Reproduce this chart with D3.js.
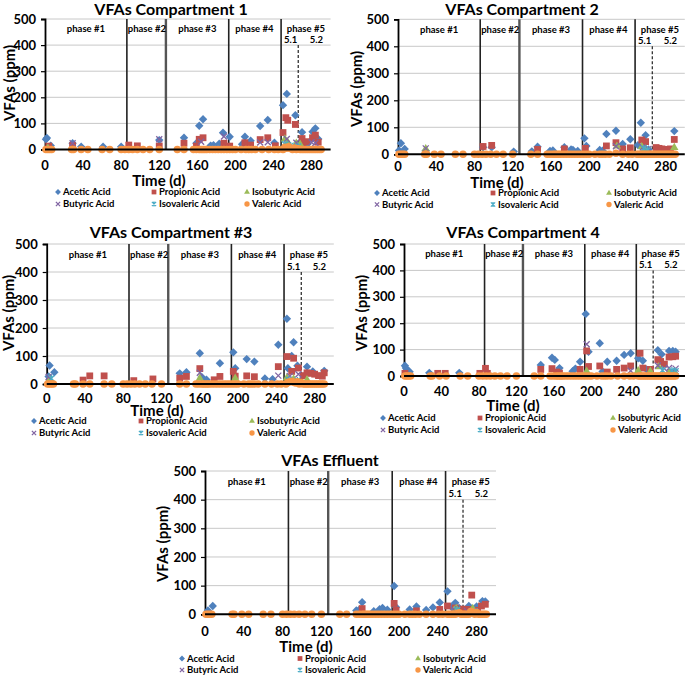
<!DOCTYPE html>
<html><head><meta charset="utf-8">
<script src="https://cdn.jsdelivr.net/npm/d3@7"></script>
<style>
html,body{margin:0;padding:0;background:#fff;}
svg{display:block;font-family:Lato,"Open Sans",sans-serif;font-weight:700;}
</style></head>
<body>
<svg id="chart" width="685" height="676"></svg>
<script>
// ---------------- DATA ----------------
const seriesNames = ["Acetic Acid","Propionic Acid","Isobutyric Acid","Butyric Acid","Isovaleric Acid","Valeric Acid"];
const seriesColors = ["#4F81BD","#C0504D","#9BBB59","#8064A2","#4BACC6","#F79646"];
const yTicks = [0,100,200,300,400,500];
const xTicks = [0,40,80,120,160,200,240,280];
const phaseDays = [86,127,193,248];
const subPhaseDay = 266;
const phaseLabels = ["phase #1","phase #2","phase #3","phase #4","phase #5"];
const phaseLabelDays = [43,107,160,220,274];
const subLabels = ["5.1","5.2"];
const subLabelDays = [258,285];
const panelTitles = ["VFAs Compartment 1","VFAs Compartment 2","VFAs Compartment #3","VFAs Compartment 4","VFAs Effluent"];

const sampleDays = [1,3,5,7,28,30,38,45,60,68,80,84,88,92,97,103,110,120,139,146,156,159,162,164,166,168,170,173,176,179,182,185,188,191,194,197,200,206,211,214,217,221,228,235,241,245,250,252,254,256,258,260,262,264,266,268,270,272,274,276,278,280,282,284,286,288,290];

// Compartment 1
const c1Acetic = [[1,39],[2,44],[6,15],[29,24],[38,11],[61,11],[80,11],[120,36],[146,45],[159,24],[162,91],[166,116],[174,15],[177,16],[183,22],[187,64],[194,49],[207,20],[210,49],[216,34],[226,90],[234,113],[241,26],[250,170],[254,213],[263,131],[270,66],[273,25],[276,22],[281,68],[284,81],[287,40]];
const c1Propionic = [[4,13],[29,15],[88,17],[97,14],[120,13],[146,24],[159,13],[162,39],[166,45],[188,24],[194,13],[210,26],[216,17],[226,38],[234,45],[242,14],[250,65],[253,122],[255,112],[263,96],[270,42],[271,25],[275,30],[281,45],[284,55],[287,28]];
const c1Isobutyric = [[3,5],[252,40],[255,28],[264,24],[268,20]];
const c1Butyric = [[29,24],[120,39],[164,30],[188,50],[226,27],[234,28],[254,40],[264,26],[280,28],[284,25]];
const c1Isovaleric = [[252,20],[258,15],[266,12]];
const c1Valeric = [0,0,0,0,0,0,0,0,0,0,0,0,0,0,0,0,0,0,0,0,0,0,0,0,0,0,0,0,0,0,0,0,0,0,0,0,0,0,0,0,0,0,0,0,0,0,0,8,5,10,4,0,6,0,3,0,0,0,0,0,0,0,0,0,0,0,0];

// Compartment 2
const c2Acetic = [[1,14],[3,41],[7,20],[29,13],[89,26],[98,26],[121,10],[140,11],[146,28],[159,12],[162,14],[174,26],[181,18],[183,16],[188,12],[195,59],[197,31],[211,16],[214,13],[218,75],[228,87],[235,38],[243,56],[251,34],[254,117],[259,71],[262,18],[289,86]];
const c2Propionic = [[89,29],[98,33],[146,18],[174,20],[196,22],[218,31],[228,43],[235,20],[243,24],[255,53],[259,47],[270,25],[273,22],[276,20],[279,18],[282,18],[285,20],[289,55]];
const c2Isobutyric = [[29,20],[229,30],[255,28],[259,20],[289,25]];
const c2Butyric = [[29,22],[228,30],[256,25],[262,20]];
const c2Isovaleric = [[257,22],[261,15]];
const c2Valeric = [0,0,0,0,0,0,0,0,0,0,0,0,0,0,0,0,0,0,0,0,0,0,0,0,0,0,0,0,0,0,0,0,0,0,0,0,0,0,0,0,0,0,4,0,0,0,0,0,0,0,0,0,0,0,0,0,0,0,0,0,0,0,0,0,0,0,0];

// Compartment 3
const c3Acetic = [[2,27],[3,66],[8,42],[139,38],[146,42],[160,110],[162,25],[167,15],[181,74],[195,113],[197,56],[209,89],[217,80],[228,20],[236,17],[242,140],[251,233],[252,56],[256,100],[258,149],[262,65],[272,62],[278,45],[290,47]];
const c3Propionic = [[38,14],[45,29],[60,29],[91,12],[111,18],[139,21],[146,27],[160,55],[175,15],[181,27],[195,45],[197,28],[209,29],[217,26],[242,62],[251,98],[256,45],[258,92],[263,57],[268,30],[272,40],[276,38],[280,35],[284,30],[288,28],[290,40]];
const c3Isobutyric = [[3,18],[160,20],[197,20],[251,22],[258,18],[272,15]];
const c3Butyric = [[2,25],[160,40],[242,30],[254,28],[263,35]];
const c3Isovaleric = [[5,20],[253,15],[262,12]];
const c3Valeric = [0,0,0,0,0,0,0,0,0,0,0,0,0,0,0,0,0,0,0,0,0,0,0,0,0,0,0,0,0,0,0,0,0,0,0,0,0,0,0,0,0,0,0,0,0,0,0,5,8,10,6,4,8,0,5,0,0,0,0,0,0,0,0,0,0,0,0];

// Compartment 4
const c4Acetic = [[1,39],[2,30],[6,16],[27,12],[59,12],[146,42],[158,69],[161,61],[166,30],[180,18],[183,28],[188,54],[194,235],[197,92],[209,124],[212,17],[217,54],[227,58],[235,80],[242,86],[250,67],[255,58],[259,25],[271,98],[275,82],[283,95],[287,95],[290,92]];
const c4Propionic = [[1,10],[36,10],[44,10],[81,10],[87,29],[89,10],[146,25],[158,28],[163,15],[166,11],[188,25],[195,95],[197,36],[209,38],[217,15],[227,25],[235,30],[242,38],[252,86],[255,30],[263,25],[271,62],[274,55],[278,45],[283,72],[287,73],[290,75]];
const c4Isobutyric = [[195,18],[250,20],[263,18],[272,35],[283,16],[289,16]];
const c4Butyric = [[195,120],[242,20],[271,40],[278,28],[283,30],[290,28]];
const c4Isovaleric = [[276,22],[286,20],[290,18]];
const c4Valeric = [0,0,0,0,0,0,0,0,0,0,0,0,0,0,0,0,0,0,0,0,0,0,0,0,0,0,0,0,0,0,0,0,0,0,0,0,0,0,0,0,0,0,0,0,0,0,0,0,0,0,0,0,0,0,0,0,0,0,0,0,0,0,0,0,0,0,0];

// Effluent
const c5Acetic = [[3,13],[8,29],[156,13],[159,16],[162,42],[174,11],[180,18],[183,22],[188,16],[195,99],[197,25],[211,17],[218,27],[228,15],[235,24],[242,41],[250,80],[254,26],[258,40],[262,22],[272,29],[280,27],[286,46],[289,45]];
const c5Propionic = [[162,20],[195,38],[197,14],[218,12],[242,17],[250,29],[258,22],[266,18],[272,17],[275,67],[281,14],[285,29],[289,35]];
const c5Isobutyric = [[257,15],[259,20],[276,20]];
const c5Butyric = [[256,18],[270,12]];
const c5Isovaleric = [[260,15],[278,10]];
const c5Valeric = [0,0,0,0,0,0,0,0,0,0,0,0,0,0,0,0,0,0,0,0,0,0,0,0,0,0,0,0,0,0,0,0,0,0,0,0,0,0,0,0,0,0,0,0,0,0,0,0,0,0,0,3,5,0,0,0,0,0,10,8,0,6,0,0,0,0,0];

// -------------- LAYOUT (not data) --------------
const panels = [
  {x0:45, x1:330.6, yTop:19, yBot:149.5, title:[171,9.5], tickY:165, time:[159,181], ylab:[10,83], legRows:[192,204], legCols:[58,154,247]},
  {x0:398, x1:684.8, yTop:19.3, yBot:154.3, title:[522,9.5], tickY:166, time:[497,182.5], ylab:[357,89], legRows:[193,204.5], legCols:[377,493,609]},
  {x0:46.7, x1:333.8, yTop:244, yBot:384, title:[171,232], tickY:398, time:[157,411], ylab:[9,313], legRows:[421,433], legCols:[34,141,252]},
  {x0:404, x1:685, yTop:244, yBot:376, title:[523,232], tickY:391, time:[513,406], ylab:[362,313], legRows:[418,430], legCols:[383,480,613]},
  {x0:205, x1:496, yTop:471, yBot:614.3, title:[330,460], tickY:631, time:[306,647], ylab:[163,544], legRows:[658.5,670], legCols:[182,300,418]}
];
const panelData = [
  [c1Acetic,c1Propionic,c1Isobutyric,c1Butyric,c1Isovaleric,c1Valeric],
  [c2Acetic,c2Propionic,c2Isobutyric,c2Butyric,c2Isovaleric,c2Valeric],
  [c3Acetic,c3Propionic,c3Isobutyric,c3Butyric,c3Isovaleric,c3Valeric],
  [c4Acetic,c4Propionic,c4Isobutyric,c4Butyric,c4Isovaleric,c4Valeric],
  [c5Acetic,c5Propionic,c5Isobutyric,c5Butyric,c5Isovaleric,c5Valeric]
];

const svg = d3.select("#chart");

function drawMarker(g, idx, x, y, big){
  const k = big ? 1 : 0.7;
  const col = seriesColors[idx];
  const t = `translate(${x},${y})`;
  if(idx===0){
    const r = 4.2*k;
    g.append("path").attr("d",`M0,${-r}L${r},0L0,${r}L${-r},0Z`).attr("transform",t).attr("fill",col);
  } else if(idx===1){
    const s = 3.4*k;
    g.append("rect").attr("x",x-s).attr("y",y-s).attr("width",2*s).attr("height",2*s).attr("fill",col);
  } else if(idx===2){
    g.append("path").attr("d", d3.symbol(d3.symbolTriangle, 30*k*k)()).attr("transform",t).attr("fill",col);
  } else if(idx===3){
    const s=3*k;
    g.append("path").attr("d",`M${-s},${-s}L${s},${s}M${-s},${s}L${s},${-s}`).attr("transform",t).attr("stroke",col).attr("stroke-width",1.3).attr("fill","none");
  } else if(idx===4){
    const s=3*k;
    g.append("path").attr("d",`M${-s},${-s}L${s},${s}M${-s},${s}L${s},${-s}M0,${-s*1.2}L0,${s*1.2}`).attr("transform",t).attr("stroke",col).attr("stroke-width",1.3).attr("fill","none");
  } else {
    g.append("circle").attr("cx",x).attr("cy",y).attr("r",3.8*k).attr("fill",col);
  }
}

panels.forEach((p, pi) => {
  const g = svg.append("g");
  const x = d3.scaleLinear().domain([0,300]).range([p.x0, p.x1]);
  const y = d3.scaleLinear().domain([0,500]).range([p.yBot, p.yTop]);

  g.selectAll(".grid").data(yTicks.filter(t=>t>0)).enter().append("line")
    .attr("x1", p.x0).attr("x2", p.x1).attr("y1", d=>y(d)).attr("y2", d=>y(d))
    .attr("stroke","#c8c8c8").attr("stroke-width",1);

  const yAxis = d3.axisLeft(y).tickValues(yTicks).tickSize(4).tickPadding(5);
  const ya = g.append("g").attr("transform",`translate(${p.x0},0)`).call(yAxis);
  ya.select(".domain").attr("stroke","#000").attr("stroke-width",1.8);
  ya.selectAll(".tick line").attr("stroke","#000").attr("stroke-width",1.2);
  ya.selectAll("text").attr("font-size",13).attr("font-weight",700).attr("fill","#000").attr("font-family","Lato, sans-serif");

  g.selectAll(".xt").data(xTicks).enter().append("text")
    .attr("x", d=>x(d)).attr("y", p.tickY).attr("dy","0.35em").attr("text-anchor","middle")
    .attr("font-size",13).attr("fill","#000").text(d=>d);

  g.selectAll(".ph").data(phaseDays).enter().append("line")
    .attr("x1", d=>x(d)).attr("x2", d=>x(d)).attr("y1", y(500)).attr("y2", y(0))
    .attr("stroke", (d,i)=> i===1 ? "#555" : "#222").attr("stroke-width", (d,i)=> i===1 ? 2.4 : 1.6);
  g.append("line").attr("x1", x(subPhaseDay)).attr("x2", x(subPhaseDay)).attr("y1", y(400)).attr("y2", y(0))
    .attr("stroke","#222").attr("stroke-width",1.2).attr("stroke-dasharray","3,2");

  g.selectAll(".pl").data(phaseLabels).enter().append("text")
    .attr("x", (d,i)=>x(phaseLabelDays[i])).attr("y", y(462)).attr("dy","0.35em").attr("text-anchor","middle")
    .attr("font-size",9.5).attr("fill","#000").text(d=>d);
  g.selectAll(".sl").data(subLabels).enter().append("text")
    .attr("x", (d,i)=>x(subLabelDays[i])).attr("y", y(420)).attr("dy","0.35em").attr("text-anchor","middle")
    .attr("font-size",9.5).attr("fill","#000").text(d=>d);

  const pts = g.append("g");
  panelData[pi].forEach((ser, si) => {
    if(si===5){
      ser.forEach((v,k)=> drawMarker(pts, si, x(sampleDays[k]), y(v), true));
    } else {
      ser.forEach(d=> drawMarker(pts, si, x(d[0]), y(d[1]), true));
    }
  });

  g.append("line").attr("x1", p.x0).attr("x2", p.x1).attr("y1", y(0)).attr("y2", y(0))
    .attr("stroke","#000").attr("stroke-width",2);

  g.append("text").attr("x", p.title[0]).attr("y", p.title[1]).attr("dy","0.35em").attr("text-anchor","middle")
    .attr("font-size",16).attr("fill","#000").text(panelTitles[pi]);
  g.append("text").attr("x", p.time[0]).attr("y", p.time[1]).attr("dy","0.35em").attr("text-anchor","middle")
    .attr("font-size",15).attr("fill","#000").text("Time (d)");
  g.append("text").attr("transform",`translate(${p.ylab[0]},${p.ylab[1]}) rotate(-90)`).attr("dy","0.35em").attr("text-anchor","middle")
    .attr("font-size",15).attr("fill","#000").text("VFAs (ppm)");

  seriesNames.forEach((name, si) => {
    const row = Math.floor(si/3), col = si%3;
    const lx = p.legCols[col], ly = p.legRows[row];
    drawMarker(g, si, lx, ly, false);
    g.append("text").attr("x", lx+5).attr("y", ly).attr("dy","0.35em").attr("font-size",9.5).attr("fill","#000").text(name);
  });
});
</script>
</body></html>
